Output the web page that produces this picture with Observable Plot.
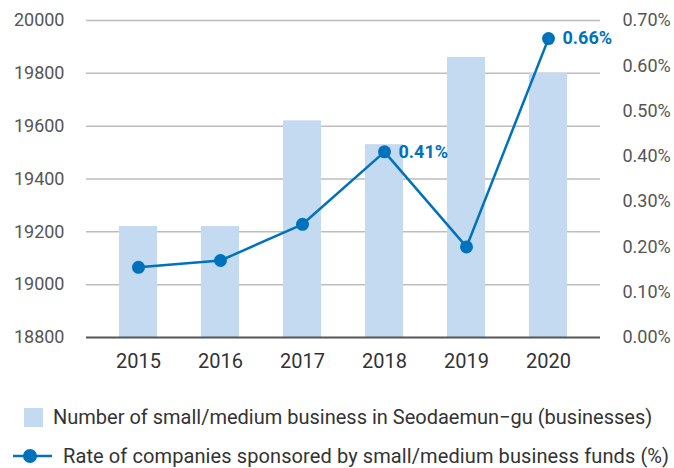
<!DOCTYPE html>
<html>
<head>
<meta charset="utf-8">
<script src="https://cdn.jsdelivr.net/npm/d3@7"></script>
<script src="https://cdn.jsdelivr.net/npm/@observablehq/plot@0.6"></script>
<style>
  body { margin: 0; background: #fff; font-family: Roboto, "Noto Sans", sans-serif; overflow: hidden; }
  #chart svg { display: block; }
  .legend { position: relative; height: 83px; color: #333; font-size: 20px; }
  .li { position: absolute; display: flex; align-items: center; white-space: nowrap; height: 24px; line-height: 24px; }
</style>
</head>
<body>
<div id="chart"></div>
<div class="legend">
  <div class="li" style="left:24px; top:20px;">
    <span style="display:inline-block;width:19px;height:19px;background:#c3daf1;margin-right:10px;"></span>
    <span>Number of small/medium business in Seodaemun−gu (businesses)</span>
  </div>
  <div class="li" style="left:13px; top:59px;">
    <svg width="39" height="16" style="margin-right:11px;"><line x1="0" y1="8" x2="39" y2="8" stroke="#0072bc" stroke-width="2.5"/><circle cx="17" cy="8" r="7" fill="#0072bc"/></svg>
    <span style="letter-spacing:0.1px">Rate of companies sponsored by small/medium business funds (%)</span>
  </div>
</div>
<script>
const years = ["2015", "2016", "2017", "2018", "2019", "2020"];
const businesses = [19220, 19220, 19620, 19530, 19860, 19800];
const rates = [0.155, 0.17, 0.25, 0.41, 0.20, 0.66];
const rateLabels = ["", "", "", "0.41%", "", "0.66%"];
const leftTicks = [18800, 19000, 19200, 19400, 19600, 19800, 20000];
const rightTicks = [0, 0.1, 0.2, 0.3, 0.4, 0.5, 0.6, 0.7];

const yMin = 18800, yMax = 20000, rMax = 0.7;
const toY = r => yMin + r / rMax * (yMax - yMin);
const fromY = v => (v - yMin) / (yMax - yMin) * rMax;

const data = years.map((y, i) => ({year: y, n: businesses[i], rate: rates[i], ry: toY(rates[i]), label: rateLabels[i]}));
const labeled = data.filter(d => d.label);

const blue = "#0072bc";
const chart = Plot.plot({
  width: 674,
  height: 385,
  marginLeft: 86,
  marginRight: 74,
  marginTop: 20,
  marginBottom: 48,
  style: {fontFamily: "Roboto, 'Noto Sans', sans-serif", fontSize: "18px", color: "#555", background: "#fff"},
  x: {domain: years, paddingInner: 0.54, paddingOuter: 0.4, label: null},
  y: {domain: [yMin, yMax], label: null},
  marks: [
    Plot.ruleY(leftTicks.slice(1), {stroke: "#bdbdbd", strokeWidth: 1.5}),
    Plot.barY(data, {x: "year", y1: yMin, y2: "n", fill: "#c3daf1"}),
    Plot.ruleY([yMin], {stroke: "#555", strokeWidth: 2}),
    Plot.line(data, {x: "year", y: "ry", stroke: blue, strokeWidth: 2.5}),
    Plot.dot(data, {x: "year", y: "ry", r: 6.5, fill: blue}),
    Plot.text(labeled, {x: "year", y: "ry", text: "label", dx: 14, textAnchor: "start", fill: blue, fontWeight: "bold", fontSize: 18}),
    Plot.axisX({tickSize: 0, tickPadding: 16, fontSize: 20, color: "#333", label: null}),
    Plot.axisY({anchor: "left", ticks: leftTicks, tickSize: 0, tickPadding: 22, tickFormat: d => String(d), label: null}),
    Plot.axisY({anchor: "right", ticks: rightTicks.map(toY), tickSize: 0, tickPadding: 22, tickFormat: v => fromY(v).toFixed(2) + "%", label: null})
  ]
});
document.getElementById("chart").appendChild(chart);
</script>
</body>
</html>
